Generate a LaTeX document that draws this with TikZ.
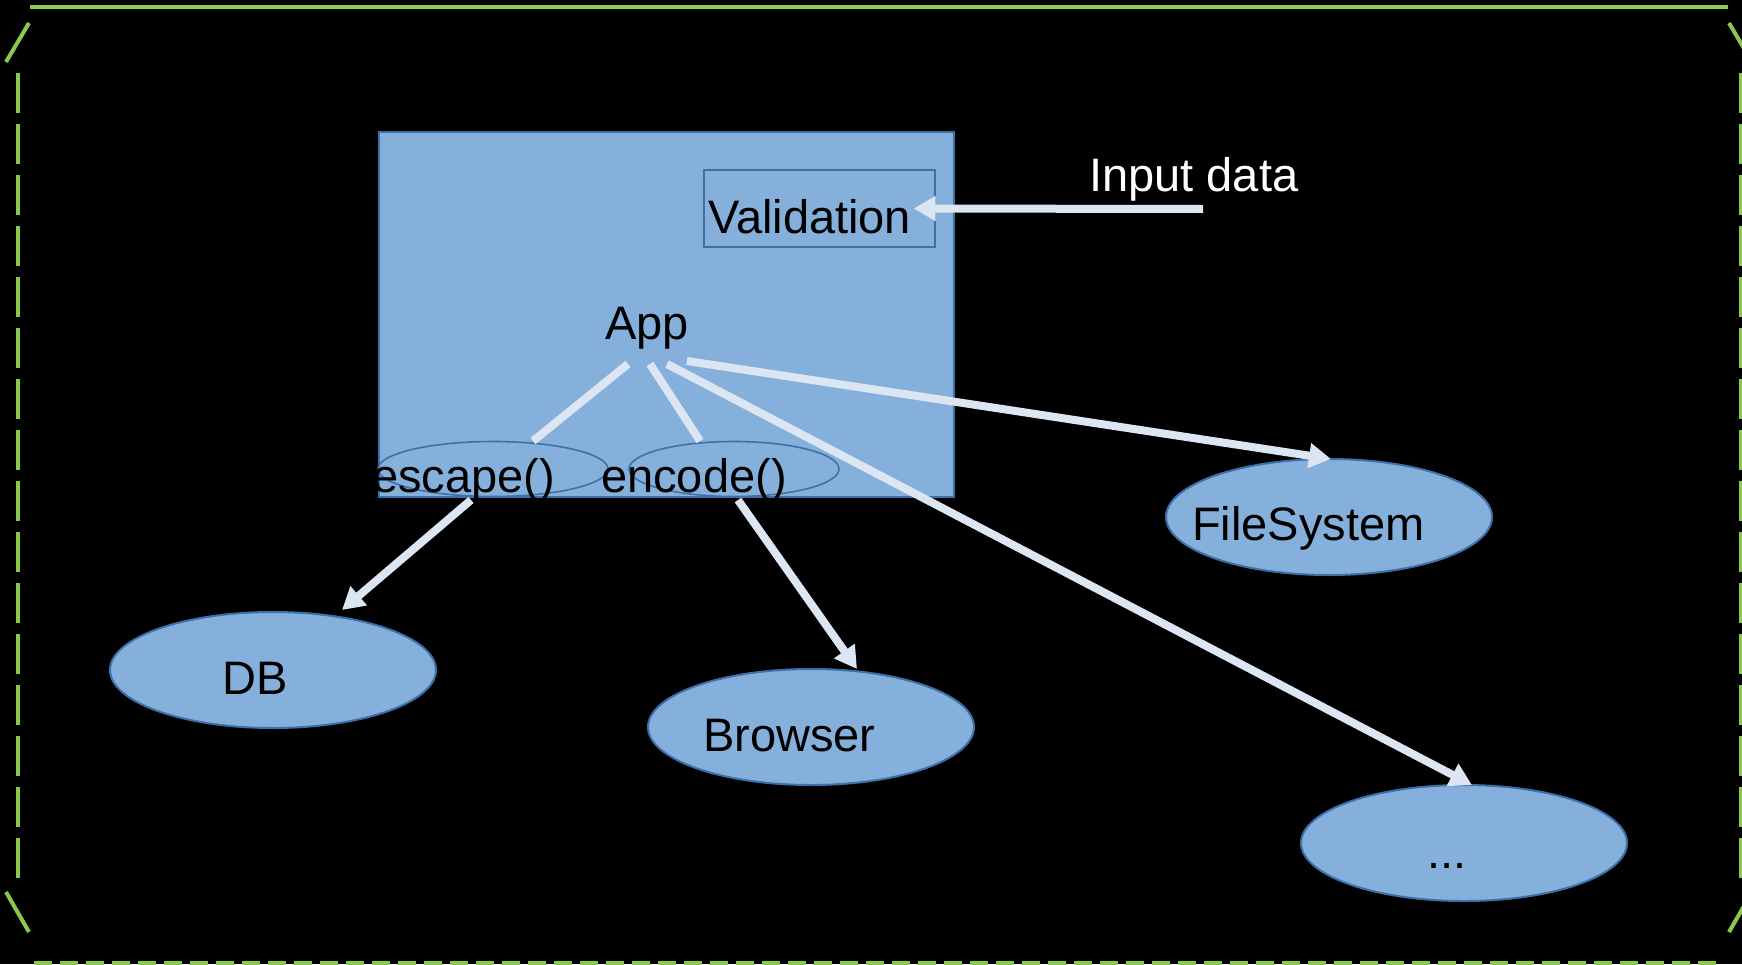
\documentclass[tikz,border=0pt]{standalone}
\usepackage{fontspec}
\setmainfont{Liberation Sans}
\usetikzlibrary{arrows.meta,shapes.geometric,calc}
\definecolor{boxfill}{HTML}{84B0DB}
\definecolor{boxline}{HTML}{3E70A8}
\definecolor{connc}{HTML}{DCE6F2}
\definecolor{frameg}{HTML}{8CC84B}
\begin{document}
\begin{tikzpicture}[x=1pt,y=-1pt,
  txt/.style={font=\fontsize{47}{56}\selectfont, inner sep=0pt, anchor=base west, text=black},
  wtxt/.style={txt, text=white},
  blk/.style={draw=boxline, fill=boxfill, line width=2pt, inner sep=0pt},
  ell/.style={blk, ellipse},
  bigell/.style={ell, minimum width=326pt, minimum height=116pt},
  smallell/.style={ell, line width=1.6pt},
  conn/.style={draw=connc, line width=8pt},
  arr/.style={conn, -{Triangle[length=22pt,width=24pt]}},
  frm/.style={draw=frameg, line width=4pt}]
\fill[black] (0,0) rectangle (1742,964);
\useasboundingbox (0,0) rectangle (1742,964);
\clip (0,0) rectangle (1742,964);
% frame
\draw[frm] (30,7) -- (1728,7);
\draw[frm] (29,23) -- (6,62);
\draw[frm] (6,892) -- (29,932);
\draw[frm] (1729,23) -- (1752,62);
\draw[frm] (1752,892) -- (1729,932);
\draw[frm, dash pattern=on 40pt off 11pt] (17.5,73) -- (17.5,882);
\draw[frm, dash pattern=on 40pt off 11pt] (1741,73) -- (1741,882);
\draw[frm, dash pattern=on 18pt off 8pt] (34,963) -- (1722,963);
% shapes
\node[blk, minimum width=575pt, minimum height=365pt] (app) at (666.5,314.5) {};
\node[blk, line width=1.4pt, minimum width=231pt, minimum height=77pt] (val) at (819.5,208.5) {};
\node[smallell, minimum width=230pt, minimum height=55pt] (esc) at (493,469) {};
\node[smallell, minimum width=210pt, minimum height=55pt] (enc) at (734,469) {};
\node[bigell] (db) at (273,670) {};
\node[bigell] (br) at (811,727) {};
\node[bigell] (fs) at (1329,517) {};
\node[bigell] (dots) at (1464,843) {};
% connectors
\draw[conn] ($(app.center)+(-38.5,49.5)$) -- ($(esc.center)+(40,-28)$);
\draw[conn] ($(app.center)+(-16.5,49.5)$) -- ($(enc.center)+(-34,-28)$);
\draw[arr] ($(app.center)+(0.5,49.5)$) -- ($(dots.center)+(8,-58)$);
\draw[arr] ($(app.center)+(20.5,46.5)$) -- ($(fs.center)+(2,-58)$);
\draw[arr] ($(esc.center)+(-22,31)$) -- ($(db.center)+(69,-60)$);
\draw[arr] ($(enc.center)+(4,31)$) -- ($(br.center)+(46,-58)$);
% labels
\node[txt] (vall) at (708,233) {Validation};
\node[txt] (appl) at (605,339) {App};
\node[wtxt] (inp) at (1089,191) {Input data};
\draw[arr] ($(inp.base west)+(114,18)$) -- ($(val.east)+(-22,0)$);
\node[txt] (escl) at (372,492) {escape()};
\node[txt] (encl) at (601,492) {encode()};
\node[txt] (dbl) at (222,694) {DB};
\node[txt] (brl) at (703,751) {Browser};
\node[txt] (fsl) at (1192,540) {FileSystem};
\node[txt] (dotsl) at (1427,868) {...};
\end{tikzpicture}
\end{document}
